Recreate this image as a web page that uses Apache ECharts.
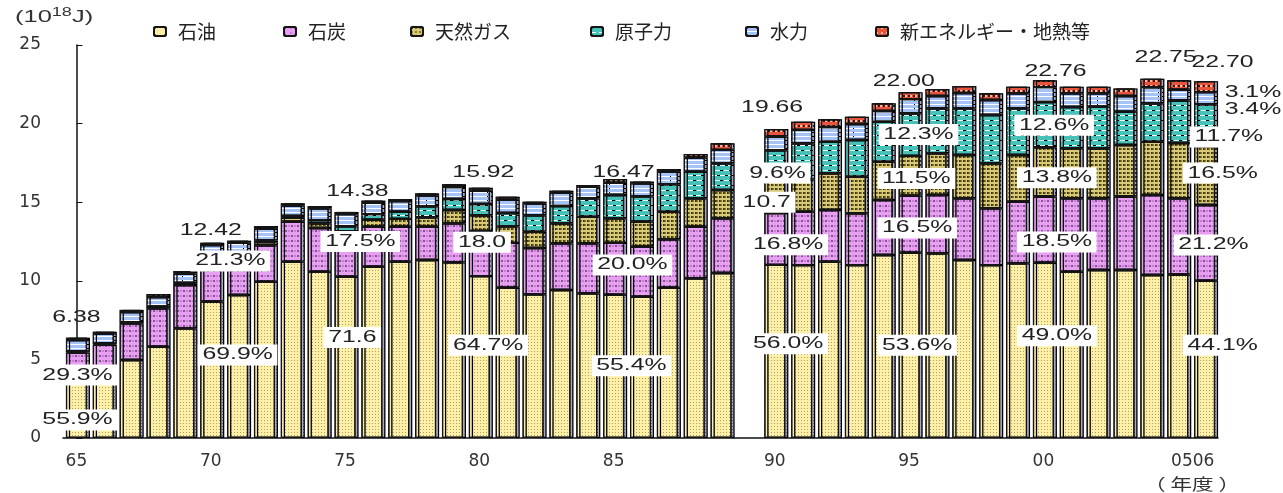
<!DOCTYPE html>
<html lang="ja">
<head>
    <meta charset="UTF-8">
    <title>一次エネルギー国内供給の推移</title>
    <script src="https://cdn.jsdelivr.net/npm/echarts@6/dist/echarts.min.js"></script>
</head>
<body style="margin:0;background:#fff;">
<div id="main" style="width: 1283px;height:493px;"></div>
<script type="text/javascript">
    // 年度（89と90の間は空き）
    var years = ['65','66','67','68','69','70','71','72','73','74','75','76','77','78','79',
        '80','81','82','83','84','85','86','87','88','89','',
        '90','91','92','93','94','95','96','97','98','99','00','01','02','03','04','05','06'];
    var shownYears = ['65','70','75','80','85','90','95','00','05'];

    // 単位 10^18 J
    var oil = [3.57,4.10,4.96,5.81,6.98,8.68,9.10,9.94,11.22,10.58,10.26,10.90,11.22,11.32,11.17,
        10.30,9.56,9.14,9.41,9.20,9.12,8.99,9.56,10.16,10.50,null,
        11.01,11.00,11.22,11.00,11.64,11.79,11.75,11.32,11.00,11.11,11.15,10.58,10.69,10.69,10.37,10.40,10.01];
    var coal = [1.87,1.83,2.34,2.44,2.75,2.65,2.30,2.32,2.54,2.78,2.52,2.54,2.22,2.12,2.49,
        2.87,2.85,2.95,2.97,3.18,3.29,3.18,3.08,3.28,3.48,null,
        3.30,3.40,3.28,3.29,3.50,3.63,3.71,3.93,3.61,3.92,4.21,4.67,4.56,4.67,5.09,4.85,4.81];
    var gas = [0.07,0.07,0.05,0.08,0.10,0.15,0.20,0.20,0.25,0.30,0.38,0.45,0.50,0.60,0.84,
        1.00,1.05,1.03,1.28,1.70,1.57,1.60,1.76,1.81,1.80,null,
        2.10,2.05,2.34,2.33,2.44,2.53,2.65,2.75,2.86,2.97,3.14,3.18,3.18,3.28,3.39,3.52,3.75];
    var nuclear = [0.00,0.01,0.01,0.02,0.03,0.04,0.08,0.10,0.12,0.20,0.30,0.35,0.45,0.70,0.70,
        0.72,0.85,1.05,1.10,1.17,1.48,1.60,1.74,1.69,1.70,null,
        1.89,2.30,2.01,2.34,2.54,2.71,2.86,2.97,3.08,2.97,2.87,2.63,2.65,2.12,2.44,2.70,2.66];
    var hydro = [0.72,0.63,0.65,0.62,0.60,0.75,0.75,0.75,0.65,0.75,0.78,0.72,0.68,0.68,0.77,
        0.84,0.85,0.74,0.84,0.74,0.78,0.82,0.80,0.90,0.85,null,
        0.88,0.85,0.93,1.01,0.68,0.90,0.79,0.98,0.95,0.96,0.95,0.87,0.85,1.00,1.02,0.68,0.77];
    var newEnergy = [0.15,0.12,0.14,0.19,0.16,0.15,0.12,0.18,0.15,0.15,0.14,0.14,0.13,0.14,0.17,
        0.19,0.19,0.12,0.13,0.10,0.23,0.12,0.17,0.23,0.42,null,
        0.48,0.52,0.49,0.47,0.49,0.44,0.44,0.44,0.43,0.42,0.44,0.42,0.42,0.48,0.54,0.60,0.70];

    // 注記：[文字, 年度の位置(番号), 値, 白枠]
    var notes = [
        ['6.38', 0, 7.63, 0], ['12.42', 5, 13.2, 0], ['14.38', 10.46, 15.7, 0],
        ['15.92', 15.15, 16.9, 0], ['16.47', 20.37, 16.9, 0], ['19.66', 25.9, 21.0, 0],
        ['22.00', 30.8, 22.65, 0], ['22.76', 36.45, 23.3, 0], ['22.75', 40.55, 24.2, 0],
        ['22.70', 42.67, 23.85, 0],
        ['29.3%', 0.04, 4.0, 1], ['55.9%', 0.04, 1.15, 1],
        ['21.3%', 5.73, 11.26, 1], ['69.9%', 6.0, 5.28, 1],
        ['17.5%', 10.57, 12.5, 1], ['71.6', 10.27, 6.4, 1],
        ['18.0', 15.1, 12.45, 1], ['64.7%', 15.33, 5.9, 1],
        ['20.0%', 20.7, 11.0, 1], ['55.4%', 20.66, 4.6, 1],
        ['10.7', 25.7, 15.0, 1], ['9.6%', 26.1, 16.85, 1], ['16.8%', 26.5, 12.3, 1], ['56.0%', 26.5, 6.0, 1],
        ['12.3%', 31.35, 19.3, 1], ['11.5%', 31.27, 16.5, 1], ['16.5%', 31.3, 13.36, 1], ['53.6%', 31.3, 5.9, 1],
        ['12.6%', 36.4, 19.9, 1], ['13.8%', 36.5, 16.55, 1], ['18.5%', 36.5, 12.47, 1], ['49.0%', 36.5, 6.5, 1],
        ['3.1%', 43.8, 22.0, 1], ['3.4%', 43.8, 20.9, 1], ['11.7%', 42.9, 19.15, 1],
        ['16.5%', 42.67, 16.85, 1], ['21.2%', 42.33, 12.28, 1], ['44.1%', 42.67, 5.9, 1]
    ];

    var numFont = 'DejaVu Sans, Noto Sans CJK JP, sans-serif';
    var thinFont = 'Liberation Sans, Arial, sans-serif';
    var jpFont = 'Noto Sans CJK JP, sans-serif';

    function barSeries(name, data, color, decal) {
        return {
            name: name,
            type: 'bar',
            stack: 'total',
            barWidth: 21,
            data: data,
            itemStyle: {
                color: color,
                borderColor: '#151515',
                borderWidth: 1.2,
                shadowColor: 'rgba(140,140,175,0.75)',
                shadowOffsetX: 3,
                decal: decal
            }
        };
    }

    var names = ['石油', '石炭', '天然ガス', '原子力', '水力', '新エネルギー・地熱等'];
    var legendLeft = [148, 278, 405, 585, 740, 870];

    var myChart = echarts.init(document.getElementById('main'));

    var option = {
        animation: false,
        aria: { enabled: true, decal: { show: true } },
        grid: { left: 63, right: 65, top: 45, bottom: 55 },
        legend: names.map(function (n, i) {
            return {
                data: [n],
                left: legendLeft[i],
                top: 17,
                itemWidth: 12,
                itemHeight: 9,
                selectedMode: false,
                textStyle: { fontSize: 19, color: '#222', fontFamily: jpFont, padding: [0, 0, 0, 7] }
            };
        }),
        xAxis: [{
            type: 'category',
            data: years,
            axisLine: { lineStyle: { color: '#111', width: 1.5 } },
            axisTick: { show: false },
            axisLabel: {
                interval: function (idx, val) { return shownYears.indexOf(val) >= 0; },
                formatter: function (val) { return val === '05' ? '{s|0506}' : val; },
                rich: { s: { fontSize: 17, color: '#333', fontFamily: numFont, padding: [0, 0, 0, 30] } },
                fontSize: 17,
                color: '#333',
                fontFamily: numFont,
                margin: 15
            }
        }, {
            type: 'value',
            min: -0.5,
            max: 42.5,
            show: false
        }],
        yAxis: {
            type: 'value',
            min: 0,
            max: 25,
            interval: 5,
            axisLine: { show: true, lineStyle: { color: '#111', width: 1.5 } },
            axisTick: { show: true, inside: true, length: 6, lineStyle: { color: '#111' } },
            splitLine: { show: false },
            axisLabel: { fontSize: 17, color: '#333', fontFamily: numFont, margin: 22 }
        },
        graphic: [{
            type: 'text',
            left: 15,
            top: 7,
            scaleX: 1.5,
            style: {
                text: '(10{sup|18}J)',
                fill: '#333',
                font: '17px ' + thinFont,
                rich: { sup: { fontSize: 12, verticalAlign: 'top', padding: [0, 0, 8, 0], fill: '#333', fontFamily: thinFont } }
            }
        }, {
            type: 'text',
            x: 1192,
            y: 484,
            scaleX: 1.35,
            style: {
                text: '（ 年度 ）',
                fill: '#333',
                font: '16px ' + jpFont,
                align: 'center',
                verticalAlign: 'middle'
            }
        }],
        series: [
            barSeries('石油', oil, '#FCF0A9',
                { symbol: 'rect', symbolSize: 1, rotation: 0, color: 'rgba(225,190,100,0.45)', dashArrayX: [1, 2], dashArrayY: [1, 2] }),
            barSeries('石炭', coal, '#E69FF1',
                { symbol: 'circle', symbolSize: 1, rotation: 0, color: 'rgba(165,80,190,0.6)', dashArrayX: [2, 4], dashArrayY: [2, 3] }),
            barSeries('天然ガス', gas, '#D8CA78',
                { symbol: 'circle', symbolSize: 1, rotation: 0, color: '#6f600f', dashArrayX: [2, 2], dashArrayY: [2, 2] }),
            barSeries('原子力', nuclear, '#46C2B8',
                { symbol: 'rect', symbolSize: 1, rotation: 0, color: '#E8FFFB', dashArrayX: [[5, 3], [0, 4, 5, 0]], dashArrayY: [1, 4] }),
            barSeries('水力', hydro, '#A6C3F5',
                { symbol: 'rect', symbolSize: 1, rotation: 0, color: '#FFFFFF', dashArrayX: [60, 1], dashArrayY: [1, 3] }),
            barSeries('新エネルギー・地熱等', newEnergy, '#E9553A',
                { symbol: 'circle', symbolSize: 1, rotation: 0, color: '#FFD8C8', dashArrayX: [2, 3], dashArrayY: [2, 3] }),
            {
                type: 'custom',
                xAxisIndex: 1,
                yAxisIndex: 0,
                clip: false,
                z: 10,
                data: notes.map(function (n) { return [n[1], n[2]]; }),
                renderItem: function (params, api) {
                    var n = notes[params.dataIndex];
                    var p = api.coord([api.value(0), api.value(1)]);
                    return {
                        type: 'text',
                        x: p[0],
                        y: p[1],
                        scaleX: 1.55,
                        style: {
                            text: n[0],
                            fill: '#222',
                            font: '16px ' + thinFont,
                            align: 'center',
                            verticalAlign: 'middle',
                            backgroundColor: n[3] ? '#fff' : null,
                            padding: n[3] ? [3, 3, 2, 3] : 0
                        }
                    };
                }
            }
        ]
    };

    myChart.setOption(option);
</script>
</body>
</html>
